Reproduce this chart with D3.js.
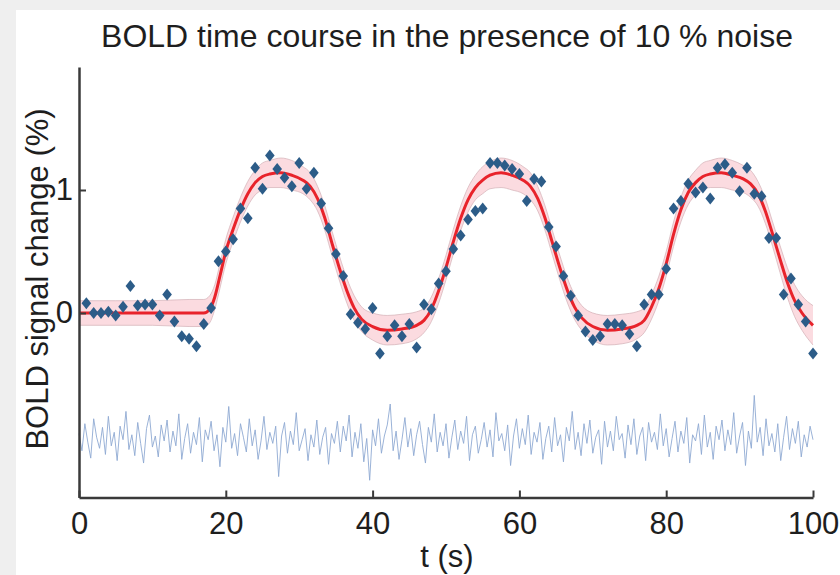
<!DOCTYPE html>
<html>
<head>
<meta charset="utf-8">
<script src="https://cdn.jsdelivr.net/npm/d3@7"></script>
<style>
  html, body { margin: 0; padding: 0; background: #efefef; }
  svg { display: block; }
  text { font-family: "Liberation Sans", Arial, Helvetica, sans-serif; fill: #1e1e1e; }
</style>
</head>
<body>
<svg id="chart"></svg>
<script>
// fitted response (t in s, value in %) with half width of the shaded band
const fitT = [0, 5, 10, 15, 17, 17.8, 18.5, 19.2, 20, 21, 22, 23, 24, 25, 26, 27.5, 29, 30.5, 31.5, 32.5, 33.5, 34.5, 35.5, 36.5, 37.5, 38.5, 40, 42, 44, 46, 47, 48, 49, 50, 51, 52, 53, 54, 55, 56, 57.5, 59, 60.5, 61.5, 62.5, 63.5, 64.5, 65.5, 66.5, 67.5, 68.5, 70, 72, 74, 76, 77, 78, 79, 80, 81, 82, 83, 84, 85, 86, 87.5, 89, 90.5, 91.5, 92.5, 93.5, 94.5, 95.5, 96.5, 97.5, 98.5, 100];
const fitV = [0, 0, 0, 0, 0, 0.03, 0.13, 0.3, 0.5, 0.68, 0.84, 0.97, 1.06, 1.11, 1.13, 1.14, 1.12, 1.08, 1.03, 0.93, 0.77, 0.56, 0.36, 0.18, 0.04, -0.05, -0.11, -0.14, -0.13, -0.1, -0.06, 0.03, 0.18, 0.37, 0.58, 0.77, 0.92, 1.02, 1.08, 1.12, 1.14, 1.12, 1.08, 1.03, 0.93, 0.77, 0.57, 0.37, 0.19, 0.05, -0.04, -0.11, -0.14, -0.13, -0.1, -0.06, 0.05, 0.2, 0.4, 0.64, 0.84, 0.98, 1.06, 1.11, 1.13, 1.14, 1.12, 1.09, 1.05, 0.97, 0.83, 0.64, 0.44, 0.25, 0.1, 0.0, -0.1];
const fitW = [0.1, 0.1, 0.1, 0.11, 0.11, 0.11, 0.1, 0.1, 0.1, 0.1, 0.1, 0.1, 0.1, 0.11, 0.11, 0.12, 0.12, 0.11, 0.11, 0.1, 0.1, 0.1, 0.1, 0.1, 0.1, 0.1, 0.11, 0.12, 0.12, 0.11, 0.1, 0.1, 0.1, 0.1, 0.1, 0.1, 0.1, 0.1, 0.11, 0.11, 0.12, 0.12, 0.11, 0.11, 0.1, 0.1, 0.1, 0.1, 0.1, 0.1, 0.1, 0.11, 0.12, 0.12, 0.11, 0.1, 0.1, 0.1, 0.1, 0.1, 0.1, 0.1, 0.1, 0.11, 0.11, 0.12, 0.12, 0.11, 0.11, 0.1, 0.1, 0.1, 0.11, 0.12, 0.13, 0.14, 0.16];

// measured samples, one per second from t = 1 s
const sampleT = d3.range(1, 101);
const sampleV = [
  0.08, 0.00, 0.00, 0.01, -0.02, 0.05, 0.22, 0.06, 0.07, 0.07,
  -0.02, 0.15, -0.07, -0.19, -0.21, -0.27, -0.09, 0.04, 0.42, 0.50,
  0.60, 0.85, 0.77, 1.18, 1.01, 1.28, 1.17, 1.10, 1.03, 1.22,
  1.01, 1.14, 0.89, 0.69, 0.48, 0.30, -0.01, -0.08, -0.13, 0.04,
  -0.33, -0.19, -0.10, -0.19, -0.09, -0.28, 0.07, 0.03, 0.24, 0.34,
  0.52, 0.63, 0.76, 0.83, 0.85, 1.22, 1.22, 1.20, 1.17, 1.13,
  0.91, 1.09, 1.07, 0.70, 0.54, 0.30, 0.14, -0.02, -0.15, -0.22,
  -0.19, -0.09, -0.09, -0.10, -0.17, -0.27, 0.07, 0.15, 0.15, 0.36,
  0.85, 0.91, 1.05, 0.98, 1.02, 0.93, 1.18, 1.21, 1.14, 0.99,
  1.18, 0.97, 0.95, 0.61, 0.61, 0.15, 0.28, 0.07, -0.07, -0.33
];

// noise trace, every 0.4 s, drawn below the response
const noiseStep = 0.4;
const noiseV = [
  -0.98,-1.12,-0.90,-1.05,-1.18,-0.86,-1.01,-1.10,-0.93,-1.15,
  -0.84,-1.08,-0.97,-1.20,-0.92,-1.03,-0.80,-1.11,-0.99,-1.16,
  -0.89,-1.06,-1.22,-0.94,-0.83,-1.09,-1.00,-1.17,-0.91,-1.04,
  -0.87,-1.13,-0.96,-1.08,-0.82,-1.19,-1.02,-0.90,-1.14,-0.97,
  -1.07,-0.85,-1.21,-0.95,-1.03,-0.88,-1.12,-0.99,-1.25,-0.93,
  -1.05,-0.76,-1.10,-0.98,-1.16,-0.90,-1.01,-1.13,-0.86,-1.08,
  -0.95,-1.19,-1.04,-0.84,-1.11,-0.97,-1.06,-0.92,-1.33,-1.00,
  -0.89,-1.14,-0.96,-1.07,-0.81,-1.12,-1.03,-0.94,-1.20,-0.99,
  -1.09,-0.87,-1.15,-1.01,-0.93,-1.23,-0.98,-1.06,-0.88,-1.13,
  -0.92,-1.04,-0.83,-1.17,-0.97,-1.10,-0.90,-1.21,-1.02,-1.36,
  -0.95,-1.08,-0.86,-1.14,-1.00,-0.91,-0.74,-1.12,-0.96,-1.19,
  -1.03,-0.85,-1.09,-0.94,-1.16,-0.99,-0.88,-1.07,-1.22,-0.93,
  -1.05,-0.82,-1.13,-0.97,-1.08,-0.90,-1.18,-1.01,-0.87,-1.11,
  -0.96,-1.06,-0.84,-1.20,-0.99,-0.92,-1.14,-1.03,-0.89,-1.09,
  -0.95,-1.17,-0.81,-1.04,-0.98,-1.12,-0.91,-1.24,-1.00,-0.86,
  -1.10,-0.94,-1.07,-0.83,-1.15,-0.97,-1.05,-0.89,-1.19,-1.02,
  -0.92,-1.13,-0.85,-1.08,-0.99,-1.21,-0.93,-1.04,-0.80,-1.11,
  -0.97,-1.16,-0.90,-1.06,-0.87,-1.14,-1.01,-0.95,-1.23,-0.88,
  -1.09,-0.96,-1.12,-0.84,-1.03,-0.98,-1.18,-0.91,-1.07,-0.86,
  -1.15,-1.00,-0.93,-1.20,-0.89,-1.05,-0.97,-1.11,-0.82,-1.08,
  -0.94,-1.17,-1.02,-0.88,-1.13,-0.96,-1.06,-0.85,-1.22,-0.99,
  -1.04,-0.90,-1.15,-0.83,-1.09,-0.97,-1.19,-0.92,-1.03,-0.87,
  -1.12,-0.95,-1.07,-0.81,-1.14,-1.00,-0.89,-1.24,-0.96,-1.10,
  -0.67,-1.05,-0.93,-1.16,-0.86,-1.08,-0.98,-1.13,-0.90,-1.20,
  -1.01,-0.84,-1.11,-0.94,-1.06,-0.88,-1.17,-0.99,-1.09,-0.92,
  -1.03
];

const xTicks = [0, 20, 40, 60, 80, 100];
const yTicks = [0, 1];

const width = 840, height = 575;
const svg = d3.select("#chart").attr("width", width).attr("height", height);

// white figure area on the grey page
svg.append("rect").attr("x", 16).attr("y", 10)
  .attr("width", width - 16).attr("height", height - 10).attr("fill", "#fff");

const x = d3.scaleLinear().domain([0, 100]).range([79, 813]);
const y = d3.scaleLinear().domain([-1.5, 2]).range([497.5, 67]);

const fit = fitT.map((t, i) => ({ t, v: fitV[i], w: fitW[i] }));

// shaded band
svg.append("path")
  .datum(fit)
  .attr("d", d3.area().curve(d3.curveMonotoneX)
    .x(d => x(d.t)).y0(d => y(d.v - d.w)).y1(d => y(d.v + d.w)))
  .attr("fill", "#fbdbe0");

["upper", "lower"].forEach(side => {
  svg.append("path")
    .datum(fit)
    .attr("d", d3.line().curve(d3.curveMonotoneX)
      .x(d => x(d.t)).y(d => y(side === "upper" ? d.v + d.w : d.v - d.w)))
    .attr("fill", "none")
    .attr("stroke", "#d3b0b6")
    .attr("stroke-width", 0.7);
});

// noise trace
svg.append("path")
  .datum(noiseV)
  .attr("d", d3.line().x((d, i) => x(i * noiseStep)).y(d => y(d)))
  .attr("fill", "none")
  .attr("stroke", "#8ea9d3")
  .attr("stroke-width", 0.9);

// fitted line
svg.append("path")
  .datum(fit)
  .attr("d", d3.line().curve(d3.curveMonotoneX).x(d => x(d.t)).y(d => y(d.v)))
  .attr("fill", "none")
  .attr("stroke", "#e8232b")
  .attr("stroke-width", 3);

// diamonds
const diamond = "M0,-6L4.8,0L0,6L-4.8,0Z";
svg.append("g").selectAll("path")
  .data(sampleT.map((t, i) => ({ t, v: sampleV[i] })))
  .join("path")
  .attr("d", diamond)
  .attr("transform", d => `translate(${x(d.t)},${y(d.v)})`)
  .attr("fill", "#2c5c88");

// axes (left and bottom only, ticks pointing in)
const axisColor = "#3a3a3a";
const xAxis = svg.append("g").attr("transform", `translate(0,${y(-1.5)})`)
  .call(d3.axisBottom(x).tickValues(xTicks).tickFormat(d3.format("d"))
    .tickSizeInner(-7).tickSizeOuter(0).tickPadding(14));
const yAxis = svg.append("g").attr("transform", `translate(${x(0)},0)`)
  .call(d3.axisLeft(y).tickValues(yTicks).tickFormat(d3.format("d"))
    .tickSizeInner(-7).tickSizeOuter(0).tickPadding(6));

[xAxis, yAxis].forEach(ax => {
  ax.select(".domain").attr("stroke", axisColor).attr("stroke-width", 2.5);
  ax.selectAll(".tick line").attr("stroke", axisColor).attr("stroke-width", 2);
  ax.selectAll(".tick text").attr("font-size", 31).attr("fill", "#1e1e1e")
    .attr("font-family", "Liberation Sans, Arial, sans-serif");
});

// titles
svg.append("text")
  .attr("x", 447).attr("y", 47)
  .attr("text-anchor", "middle").attr("font-size", 32)
  .text("BOLD time course in the presence of 10 % noise");

svg.append("text")
  .attr("x", 447).attr("y", 567)
  .attr("text-anchor", "middle").attr("font-size", 31)
  .text("t (s)");

svg.append("text")
  .attr("transform", "translate(48,279) rotate(-90)")
  .attr("text-anchor", "middle").attr("font-size", 31)
  .text("BOLD signal change (%)");
</script>
</body>
</html>
